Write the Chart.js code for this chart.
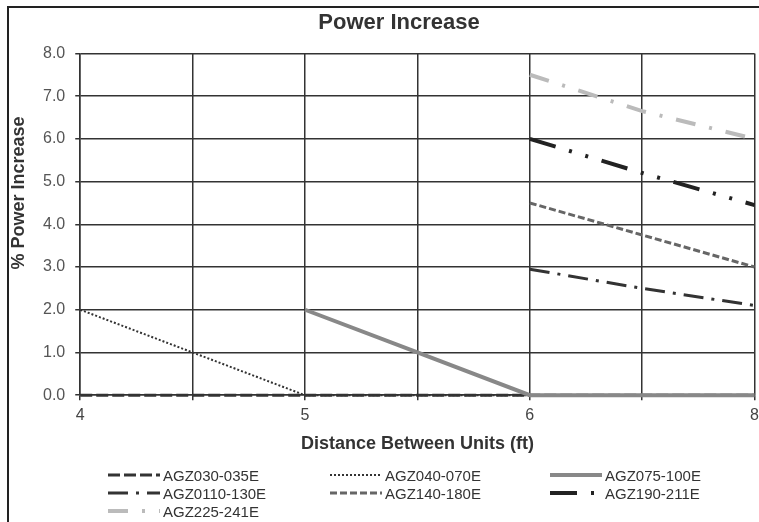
<!DOCTYPE html>
<html>
<head>
<meta charset="utf-8">
<title>Power Increase</title>
<script src="https://cdn.jsdelivr.net/npm/chart.js@4.4.1/dist/chart.umd.min.js"></script>
<style>
  html, body { margin: 0; padding: 0; background: #fff; overflow: hidden; }
  #wrap { position: relative; width: 759px; height: 522px; overflow: hidden; font-family: Arial, 'Liberation Sans', sans-serif; }
  #frame { position: absolute; left: 7px; top: 6px; width: 800px; height: 600px; border-left: 2px solid #222; border-top: 2px solid #222; }
  #chart { position: absolute; left: 0; top: 0; }
  #legend { position: absolute; left: 108px; top: 466px; display: grid; grid-template-columns: 222px 220px 200px; grid-auto-rows: 18px; font-size: 15px; color: #333; }
  .item { display: flex; align-items: center; white-space: nowrap; }
  .item svg { width: 52px; height: 18px; margin-right: 3px; flex: none; }
</style>
</head>
<body>
<div id="wrap">
  <div id="frame"></div>
  <canvas id="chart" width="765" height="522"></canvas>
  <div id="legend"></div>
</div>
<script>
// Distance between units (ft) - category axis
const distances = ['4', '4.5', '5', '5.5', '6', '7', '8'];
const labelledDistances = ['4', '5', '6', '8'];

// % power increase per model range
const agz030 = [0, 0, 0, 0, 0, 0, 0];
const agz040 = [2.0, 1.0, 0, 0, 0, 0, 0];
const agz075 = [null, null, 2.0, 1.0, 0, 0, 0];
const agz0110 = [null, null, null, null, 2.95, 2.5, 2.1];
const agz140 = [null, null, null, null, 4.5, 3.75, 3.0];
const agz190 = [null, null, null, null, 6.0, 5.2, 4.45];
const agz225 = [null, null, null, null, 7.5, 6.65, 6.0];

const series = [
    { label: 'AGZ030-035E', data: agz030, color: '#333', width: 3, dash: [12, 4] },
    { label: 'AGZ040-070E', data: agz040, color: '#333', width: 2, dash: [2, 2] },
    { label: 'AGZ075-100E', data: agz075, color: '#888', width: 4, dash: [] },
    { label: 'AGZ0110-130E', data: agz0110, color: '#333', width: 3, dash: [20, 8, 3, 8] },
    { label: 'AGZ140-180E', data: agz140, color: '#666', width: 3, dash: [7, 3] },
    { label: 'AGZ190-211E', data: agz190, color: '#222', width: 4, dash: [27, 14, 3, 14, 3, 14] },
    { label: 'AGZ225-241E', data: agz225, color: '#bbb', width: 4, dash: [20, 14, 3, 14] }
];

// y axis title, placed like the scanned original (a bit above centre)
const yTitlePlugin = {
    id: 'yTitle',
    afterDraw(chart) {
        const ctx = chart.ctx;
        ctx.save();
        ctx.translate(19, 193);
        ctx.rotate(-Math.PI / 2);
        ctx.font = 'bold 18px Arial, "Liberation Sans", sans-serif';
        ctx.fillStyle = '#333';
        ctx.textAlign = 'center';
        ctx.textBaseline = 'middle';
        ctx.fillText('% Power Increase', 0, 0);
        ctx.restore();
    }
};

const chart = new Chart(document.getElementById('chart'), {
    type: 'line',
    data: {
        labels: distances,
        datasets: series.map((s, i) => ({
            label: s.label,
            data: s.data,
            borderColor: s.color,
            borderWidth: s.width,
            borderDash: s.dash,
            pointRadius: 0,
            tension: 0,
            fill: false,
            clip: 5,
            order: series.length - i
        }))
    },
    options: {
        responsive: false,
        animation: false,
        devicePixelRatio: 1,
        layout: { padding: { left: 33, right: 0, top: 0, bottom: 67 } },
        font: { family: 'Arial, "Liberation Sans", sans-serif' },
        plugins: {
            legend: { display: false },
            tooltip: { enabled: false },
            title: {
                display: true,
                text: 'Power Increase',
                color: '#333',
                font: { size: 22, weight: 'bold' },
                padding: { top: 10, bottom: 17 }
            }
        },
        scales: {
            x: {
                grid: { color: '#333', lineWidth: 1.5, tickLength: 5 },
                border: { color: '#333', width: 1.5 },
                ticks: {
                    autoSkip: false,
                    maxRotation: 0,
                    padding: 6,
                    color: '#444',
                    font: { size: 16 },
                    callback: function (v) {
                        const l = this.getLabelForValue(v);
                        return labelledDistances.includes(l) ? l : '';
                    }
                },
                title: {
                    display: true,
                    text: 'Distance Between Units (ft)',
                    color: '#333',
                    font: { size: 18, weight: 'bold' },
                    padding: { top: 2, bottom: 0 }
                }
            },
            y: {
                min: 0,
                max: 8,
                grid: { color: '#333', lineWidth: 1.5, tickLength: 5 },
                border: { color: '#333', width: 1.5 },
                ticks: {
                    stepSize: 1,
                    padding: 10,
                    color: '#555',
                    font: { size: 16 },
                    callback: v => v.toFixed(1)
                }
            }
        }
    },
    plugins: [yTitlePlugin]
});

// Legend in three columns, built from the datasets
const legend = document.getElementById('legend');
chart.data.datasets.forEach(ds => {
    const item = document.createElement('div');
    item.className = 'item';
    item.innerHTML = `<svg viewBox="0 0 52 18"><line x1="0" y1="9" x2="52" y2="9" stroke="${ds.borderColor}" stroke-width="${ds.borderWidth}" stroke-dasharray="${ds.borderDash.join(' ')}"/></svg><span>${ds.label}</span>`;
    legend.appendChild(item);
});
</script>
</body>
</html>
